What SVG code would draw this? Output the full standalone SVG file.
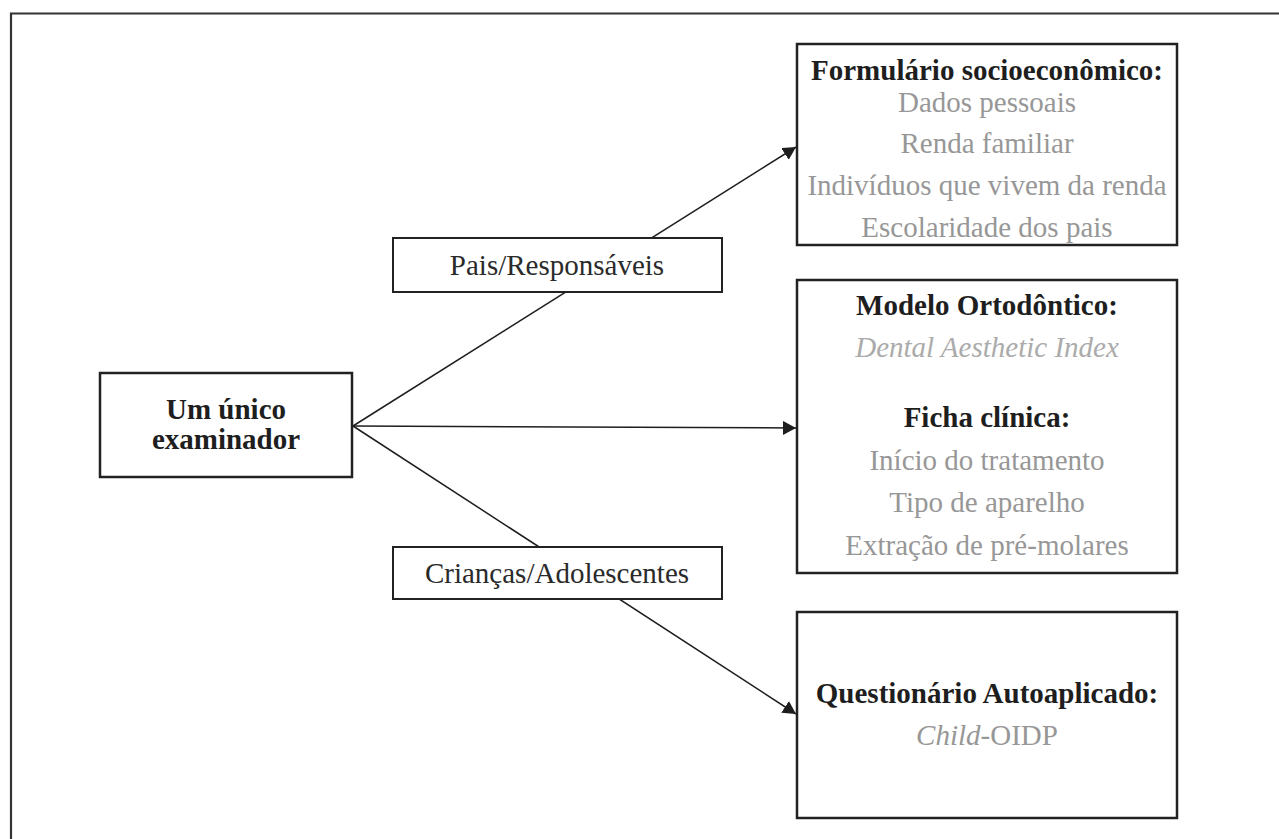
<svg xmlns="http://www.w3.org/2000/svg" width="1279" height="839" viewBox="0 0 1279 839">
<style>
.box{fill:#fff;stroke:#222;stroke-width:2.5}
.lbl{fill:#fff;stroke:#222;stroke-width:2}
.t{font-family:"Liberation Serif","Times New Roman",serif;font-size:29px;text-anchor:middle}
.b{font-weight:bold;fill:#1e1e1e}
.g{fill:#979797}
.gi{fill:#ababab;font-style:italic}
.k{fill:#2a2a2a}
.c{fill:none;stroke:#1e1e1e;stroke-width:1.5}
</style>
<defs>
<marker id="ah" markerUnits="userSpaceOnUse" markerWidth="14" markerHeight="14" refX="13" refY="7" orient="auto">
<path d="M0,0 L13,7 L0,14 Z" fill="#1e1e1e"/>
</marker>
</defs>
<path d="M11,839 V13.5 H1279" fill="none" stroke="#333" stroke-width="2.2"/>
<g id="connectors">
<line class="c" x1="353" y1="426" x2="796" y2="147" marker-end="url(#ah)"/>
<line class="c" x1="353" y1="426" x2="796" y2="428" marker-end="url(#ah)"/>
<line class="c" x1="353" y1="426" x2="796" y2="714" marker-end="url(#ah)"/>
</g>
<g id="node-examinador">
<rect class="box" x="100" y="373" width="252" height="104"/>
<text class="t b" x="226" y="419">Um único</text>
<text class="t b" x="226" y="449">examinador</text>
</g>
<g id="label-pais">
<rect class="lbl" x="393" y="238" width="329" height="54"/>
<text class="t k" x="557" y="275">Pais/Responsáveis</text>
</g>
<g id="label-criancas">
<rect class="lbl" x="393" y="547" width="329" height="52"/>
<text class="t k" x="557" y="583">Crianças/Adolescentes</text>
</g>
<g id="node-formulario">
<rect class="box" x="797" y="44" width="380" height="201"/>
<text class="t b" x="987" y="80">Formulário socioeconômico:</text>
<text class="t g" x="987" y="112">Dados pessoais</text>
<text class="t g" x="987" y="153">Renda familiar</text>
<text class="t g" x="987" y="195">Indivíduos que vivem da renda</text>
<text class="t g" x="987" y="237">Escolaridade dos pais</text>
</g>
<g id="node-modelo">
<rect class="box" x="797" y="280" width="380" height="293"/>
<text class="t b" x="987" y="315">Modelo Ortodôntico:</text>
<text class="t gi" x="987" y="357">Dental Aesthetic Index</text>
<text class="t b" x="987" y="427">Ficha clínica:</text>
<text class="t g" x="987" y="470">Início do tratamento</text>
<text class="t g" x="987" y="512">Tipo de aparelho</text>
<text class="t g" x="987" y="555">Extração de pré-molares</text>
</g>
<g id="node-questionario">
<rect class="box" x="797" y="612" width="380" height="206"/>
<text class="t b" x="987" y="703">Questionário Autoaplicado:</text>
<text class="t g" x="987" y="745"><tspan font-style="italic">Child</tspan>-OIDP</text>
</g>
</svg>
